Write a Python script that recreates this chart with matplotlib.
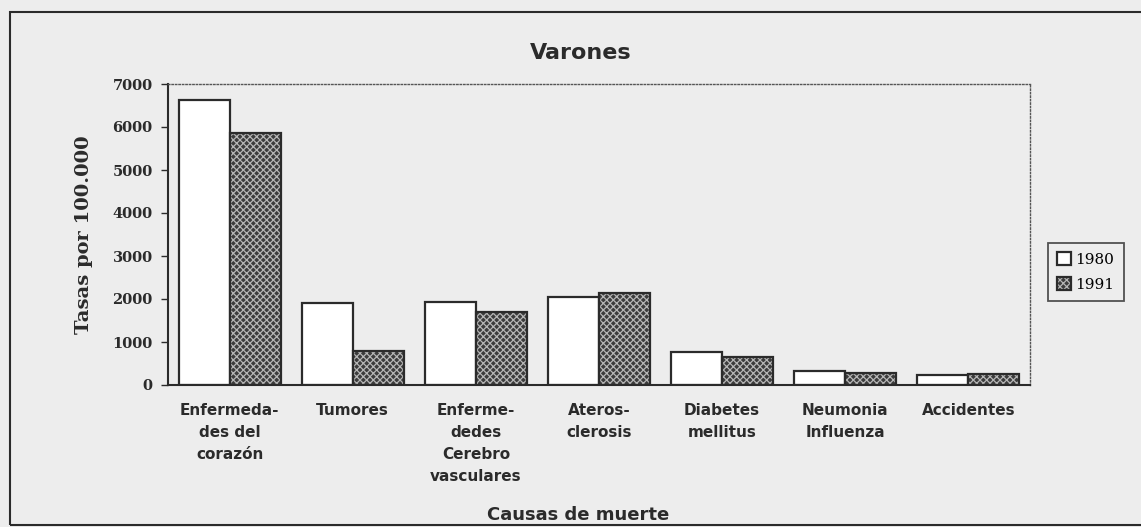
import matplotlib
matplotlib.use("Agg")
import matplotlib.pyplot as plt
import numpy as np
from matplotlib.patches import Rectangle

# datos
causas = [
    "Enfermeda-\ndes del\ncorazón",
    "Tumores",
    "Enferme-\ndedes\nCerebro\nvasculares",
    "Ateros-\nclerosis",
    "Diabetes\nmellitus",
    "Neumonia\nInfluenza",
    "Accidentes",
]
tasas_1980 = [6630, 1900, 1920, 2040, 770, 330, 230]
tasas_1991 = [5850, 780, 1690, 2150, 650, 270, 260]
años = ["1980", "1991"]
yticks = [0, 1000, 2000, 3000, 4000, 5000, 6000, 7000]

BG = "#ededed"
INK = "#2b2b2b"

plt.rcParams["hatch.linewidth"] = 0.9

fig = plt.figure(figsize=(11.41, 5.27), dpi=100, facecolor=BG)
ax = fig.add_axes([168 / 1141, 142 / 527, 862 / 1141, 301 / 527])
ax.set_facecolor(BG)

x = np.arange(len(causas))
w = 0.414

b1 = ax.bar(x - w / 2, tasas_1980, w, color="white", edgecolor=INK, linewidth=1.6)
# barra punteada: fondo oscuro + trama clara + contorno
b2 = ax.bar(x + w / 2, tasas_1991, w, color="#3c3c3c", edgecolor="#b5b5b5",
            hatch="xxxxx", linewidth=0)
b2o = ax.bar(x + w / 2, tasas_1991, w, fill=False, edgecolor=INK, linewidth=1.6)

ax.set_xlim(-0.5, len(causas) - 0.5)
ax.set_ylim(0, 7000)
ax.set_yticks(yticks)
ax.set_yticklabels([str(v) for v in yticks], family="DejaVu Serif",
                   fontweight="bold", fontsize=10.5, color=INK)
ax.set_xticks(x)
ax.set_xticklabels(causas, family="DejaVu Sans", fontweight="bold",
                   fontsize=11, color=INK, linespacing=1.58)
ax.tick_params(axis="x", length=0, pad=13)
ax.tick_params(axis="y", length=5, width=1, color=INK, pad=6)

for s in ["left", "bottom"]:
    ax.spines[s].set_color(INK)
    ax.spines[s].set_linewidth(1.5)
for s in ["top", "right"]:
    ax.spines[s].set_color("#555555")
    ax.spines[s].set_linewidth(1.0)
    ax.spines[s].set_linestyle((0, (1, 1.5)))

ax.set_ylabel("Tasas por 100.000", family="DejaVu Serif", fontweight="bold",
              fontsize=14, color=INK, labelpad=14)

fig.text(581 / 1141, 1 - 53 / 527, "Varones", ha="center", va="center",
         family="DejaVu Sans", fontweight="bold", fontsize=16, color=INK)
fig.text(578 / 1141, 1 - 515 / 527, "Causas de muerte", ha="center", va="center",
         family="DejaVu Sans", fontweight="bold", fontsize=13, color=INK)

leg = fig.legend([b1, (b2, b2o)], años, loc="upper left",
                 bbox_to_anchor=(1048 / 1141, 1 - 243 / 527),
                 prop={"family": "DejaVu Serif", "size": 11},
                 frameon=True, fancybox=False, handlelength=0.9,
                 handleheight=0.9, handletextpad=0.3, borderpad=0.6,
                 labelspacing=0.7, borderaxespad=0)
leg.get_frame().set_edgecolor(INK)
leg.get_frame().set_linewidth(1.3)
leg.get_frame().set_facecolor(BG)

# marco exterior
fig.patches.append(Rectangle((10 / 1141, 1 - 525 / 527), 1.1, 513 / 527,
                             transform=fig.transFigure, fill=False,
                             edgecolor=INK, linewidth=1.5))

fig.savefig("out.png", dpi=100, facecolor=BG)
